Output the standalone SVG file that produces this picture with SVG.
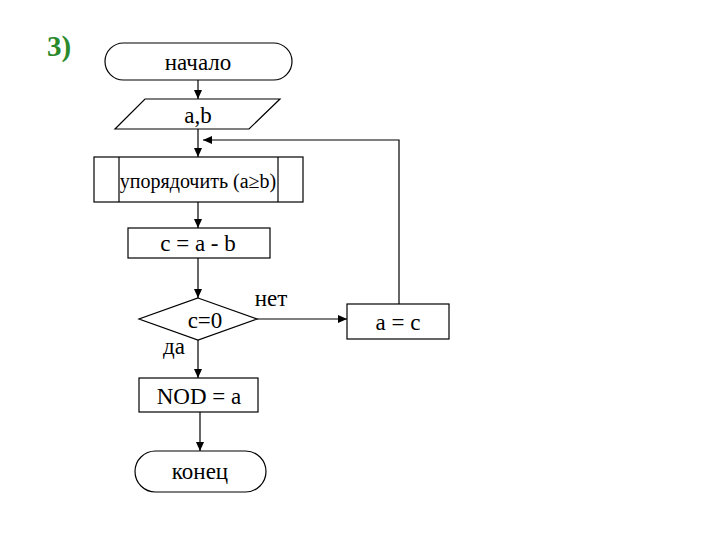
<svg xmlns="http://www.w3.org/2000/svg" width="720" height="540" viewBox="0 0 720 540">
<style>
.s{fill:#fff;stroke:#000;stroke-width:1.2}
.t{font-family:"Liberation Serif",serif;fill:#000;text-anchor:middle;font-size:23px}
.c{fill:none;stroke:#000;stroke-width:1.2}
</style>
<defs>
<marker id="a" markerWidth="10" markerHeight="10" refX="9" refY="5" orient="auto" markerUnits="userSpaceOnUse">
<path d="M0,1 L9,5 L0,9 z" fill="#000"/>
</marker>
</defs>
<rect width="720" height="540" fill="#fff"/>
<text x="47" y="56" font-family="Liberation Serif,serif" font-weight="bold" font-size="29" fill="#2a8a2a">3)</text>
<g id="connectors">
<path class="c" d="M198,80 V99" marker-end="url(#a)"/>
<path class="c" d="M198,129 V157" marker-end="url(#a)"/>
<path class="c" d="M399,304 V140 H203" marker-end="url(#a)"/>
<path class="c" d="M198,202 V228" marker-end="url(#a)"/>
<path class="c" d="M198,258 V298" marker-end="url(#a)"/>
<path class="c" d="M257,319 H347" marker-end="url(#a)"/>
<path class="c" d="M198,340 V378" marker-end="url(#a)"/>
<path class="c" d="M200,412 V451" marker-end="url(#a)"/>
</g>
<g id="start">
<rect class="s" x="105" y="43" width="187" height="37" rx="18.5"/>
<text class="t" x="198" y="70">начало</text>
</g>
<g id="input">
<polygon class="s" points="145,99 280,99 249,129 115,129"/>
<text class="t" x="198" y="123">a,b</text>
</g>
<g id="order">
<rect class="s" x="94" y="157" width="209" height="45"/>
<line class="c" x1="119" y1="157" x2="119" y2="202"/>
<line class="c" x1="278" y1="157" x2="278" y2="202"/>
<text class="t" x="198" y="188" style="font-size:20px">упорядочить (a≥b)</text>
</g>
<g id="sub">
<rect class="s" x="128" y="228" width="142" height="30"/>
<text class="t" x="198" y="251">c = a - b</text>
</g>
<g id="cond">
<polygon class="s" points="198,298 257,319 198,340 139,319"/>
<text class="t" x="205" y="328">c=0</text>
<text class="t" x="271" y="306">нет</text>
<text class="t" x="174" y="354">да</text>
</g>
<g id="assign">
<rect class="s" x="347" y="304" width="102" height="35"/>
<text class="t" x="398" y="330">a = c</text>
</g>
<g id="nod">
<rect class="s" x="139" y="378" width="119" height="34"/>
<text class="t" x="199" y="404">NOD = a</text>
</g>
<g id="end">
<rect class="s" x="135" y="451" width="131" height="41" rx="20.5"/>
<text class="t" x="200" y="479">конец</text>
</g>
</svg>
